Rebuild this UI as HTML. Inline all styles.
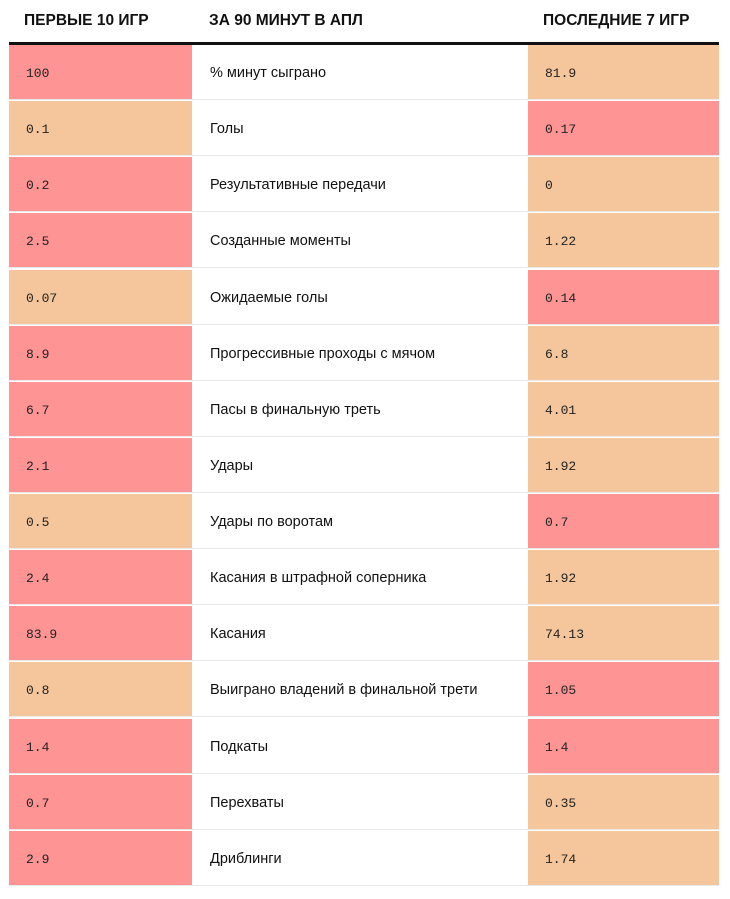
<!DOCTYPE html>
<html><head><meta charset="utf-8">
<style>
body{margin:0;width:730px;height:899px;background:#fff;font-family:"Liberation Sans",sans-serif;position:relative;overflow:hidden}
.h{position:absolute;top:12px;font-weight:bold;font-size:15.5px;color:#111}
#line{position:absolute;left:9px;top:42px;width:710px;height:3px;background:#111}
.row{position:absolute;left:9px;width:710px;height:56px}
.c{position:absolute;top:0;height:55px;border-bottom:1px solid #e8e8e8;box-sizing:content-box}
.num{font-family:"Liberation Mono",monospace;font-size:13px;color:#222;line-height:57px;padding-left:17px;box-sizing:border-box}
.lab{font-size:14.5px;color:#111;line-height:57px;padding-left:18px;box-sizing:border-box}
</style></head><body>
<div class="h" style="left:24px">ПЕРВЫЕ 10 ИГР</div>
<div class="h" style="left:209px">ЗА 90 МИНУТ В АПЛ</div>
<div class="h" style="left:543px">ПОСЛЕДНИЕ 7 ИГР</div>
<div id="line"></div>
<div id="tbl"></div>
<script>
const labels=["% минут сыграно","Голы","Результативные передачи","Созданные моменты","Ожидаемые голы","Прогрессивные проходы с мячом","Пасы в финальную треть","Удары","Удары по воротам","Касания в штрафной соперника","Касания","Выиграно владений в финальной трети","Подкаты","Перехваты","Дриблинги"];
const first10=["100","0.1","0.2","2.5","0.07","8.9","6.7","2.1","0.5","2.4","83.9","0.8","1.4","0.7","2.9"];
const last7=["81.9","0.17","0","1.22","0.14","6.8","4.01","1.92","0.7","1.92","74.13","1.05","1.4","0.35","1.74"];
const RED="#fe9494",OR="#f5c69b";
const tbl=document.getElementById('tbl');
labels.forEach((l,i)=>{
  const r=document.createElement('div');r.className='row';r.style.top=(45+i*56.13)+'px';
  
  
  const a=parseFloat(first10[i]),b=parseFloat(last7[i]);
  const c1=document.createElement('div');c1.className='c num';c1.style.left='0';c1.style.width='183px';
  c1.style.background=a>=b?RED:OR;c1.textContent=first10[i];
  
  
  const c2=document.createElement('div');c2.className='c lab';c2.style.left='183px';c2.style.width='336px';
  c2.textContent=l;
  
  
  const c3=document.createElement('div');c3.className='c num';c3.style.left='519px';c3.style.width='191px';
  c3.style.background=b>=a?RED:OR;c3.textContent=last7[i];
  
  
  r.append(c1,c2,c3);tbl.appendChild(r);
});
</script>
</body></html>
